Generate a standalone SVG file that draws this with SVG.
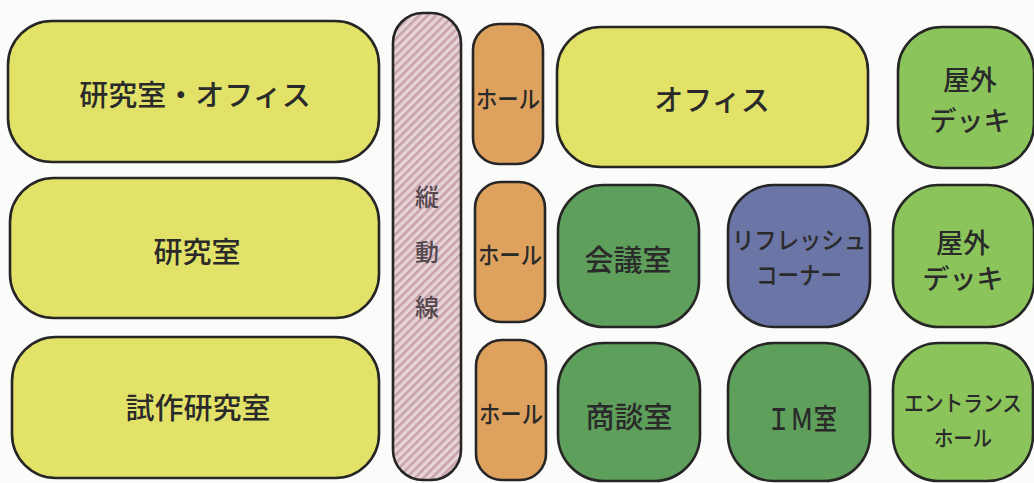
<svg xmlns="http://www.w3.org/2000/svg" width="1034" height="483" viewBox="0 0 1034 483">
<style>
.b{stroke:#262626;stroke-width:2.6}
.y{fill:#e3e268}
.o{fill:#dea25e}
.dg{fill:#5e9f5b}
.lg{fill:#8cc45c}
.pu{fill:#6b75a6}
text{font-family:"Noto Sans CJK JP","Noto Sans",sans-serif;font-weight:500;fill:#2a2a2a;text-anchor:middle;dominant-baseline:central}
.t29{font-size:29px}
.t27{font-size:27px}
.th{font-size:24px}
.te{font-size:22px}
.tv{font-size:24px;fill:#54484f}
</style>
<defs>
<pattern id="hatch" patternUnits="userSpaceOnUse" width="6" height="6" patternTransform="rotate(45)">
<rect width="6" height="6" fill="#e6d4d6"/>
<rect width="2.6" height="6" fill="#c7a3ac"/>
</pattern>
</defs>
<rect width="1034" height="483" fill="#fbfbfa"/>
<g id="connectors"></g>
<g id="n-lab-office"><rect class="b y" x="8" y="21" width="371" height="141" rx="44"/><text class="t29" x="195" y="93">研究室・オフィス</text></g>
<g id="n-lab"><rect class="b y" x="10" y="178" width="369" height="140" rx="44"/><text class="t29" x="197" y="250">研究室</text></g>
<g id="n-proto"><rect class="b y" x="12" y="337" width="367" height="141" rx="44"/><text class="t29" x="198" y="406">試作研究室</text></g>
<g id="n-core"><rect class="b" fill="url(#hatch)" x="393" y="13" width="68" height="467" rx="30"/>
<text class="tv" x="427" y="195">縦</text><text class="tv" x="427" y="250">動</text><text class="tv" x="427" y="305">線</text></g>
<g id="n-hall1"><rect class="b o" x="473" y="24" width="70" height="140" rx="26"/><text class="th" x="508" y="97" textLength="64" lengthAdjust="spacingAndGlyphs">ホール</text></g>
<g id="n-hall2"><rect class="b o" x="475" y="182" width="70" height="140" rx="26"/><text class="th" x="510" y="253" textLength="64" lengthAdjust="spacingAndGlyphs">ホール</text></g>
<g id="n-hall3"><rect class="b o" x="476" y="340" width="70" height="140" rx="26"/><text class="th" x="511" y="412" textLength="64" lengthAdjust="spacingAndGlyphs">ホール</text></g>
<g id="n-office"><rect class="b y" x="557" y="27" width="311" height="140" rx="44"/><text class="t29" x="712" y="98">オフィス</text></g>
<g id="n-deck1"><rect class="b lg" x="898" y="27" width="136" height="141" rx="44"/><text class="t27" x="970" y="78">屋外</text><text class="t27" x="970" y="119">デッキ</text></g>
<g id="n-meeting"><rect class="b dg" x="558" y="185" width="141" height="142" rx="46"/><text class="t29" x="628" y="258">会議室</text></g>
<g id="n-refresh"><rect class="b pu" x="728" y="185" width="142" height="142" rx="46"/><text class="th" x="799" y="238" textLength="134" lengthAdjust="spacingAndGlyphs">リフレッシュ</text><text class="th" x="799" y="273" textLength="86" lengthAdjust="spacingAndGlyphs">コーナー</text></g>
<g id="n-deck2"><rect class="b lg" x="893" y="185" width="141" height="142" rx="46"/><text class="t27" x="963" y="241">屋外</text><text class="t27" x="963" y="277">デッキ</text></g>
<g id="n-nego"><rect class="b dg" x="558" y="343" width="142" height="138" rx="46"/><text class="t29" x="629" y="415">商談室</text></g>
<g id="n-im"><rect class="b dg" x="728" y="343" width="142" height="138" rx="46"/><text class="t29" x="802" y="417" textLength="70" lengthAdjust="spacingAndGlyphs">ＩＭ室</text></g>
<g id="n-entrance"><rect class="b lg" x="893" y="343" width="140" height="138" rx="46"/><text class="te" x="963" y="401" textLength="118" lengthAdjust="spacingAndGlyphs">エントランス</text><text class="te" x="963" y="436" textLength="58" lengthAdjust="spacingAndGlyphs">ホール</text></g>
</svg>
